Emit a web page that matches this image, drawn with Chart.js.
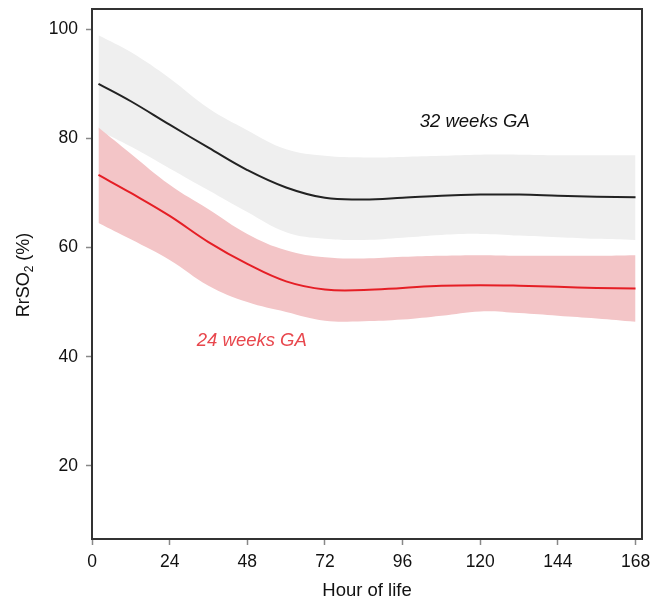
<!DOCTYPE html>
<html>
<head>
<meta charset="utf-8">
<script src="https://cdn.jsdelivr.net/npm/chart.js@4/dist/chart.umd.min.js"></script>
<style>
  html, body { margin: 0; padding: 0; background: #fff; }
  #wrap { width: 664px; height: 602px; }
</style>
</head>
<body>
<div id="wrap"><canvas id="rsoChart"></canvas></div>
<script>
// hours of life
var hours = [2, 12, 24, 36, 48, 60, 72, 84, 96, 108, 120, 132, 144, 156, 168];

// 32 weeks GA
var ga32Mean  = [90, 86.8, 82.5, 78.3, 74.2, 71, 69.1, 68.8, 69.1, 69.5, 69.7, 69.7, 69.5, 69.3, 69.2];
var ga32Upper = [98.9, 95.8, 91, 85.5, 81.5, 78, 76.8, 76.5, 76.6, 76.8, 77, 77, 76.9, 76.9, 76.9];
var ga32Lower = [81.5, 78.5, 74.5, 70.5, 66.5, 62.8, 61.6, 61.4, 61.8, 62.3, 62.5, 62.2, 61.9, 61.6, 61.4];

// 24 weeks GA
var ga24Mean  = [73.3, 70, 65.8, 61, 57, 53.8, 52.3, 52.2, 52.6, 53, 53.1, 53, 52.8, 52.6, 52.5];
var ga24Upper = [82, 77.2, 71.5, 67, 62.5, 59.5, 58.2, 58, 58.3, 58.5, 58.6, 58.5, 58.5, 58.5, 58.6];
var ga24Lower = [64.5, 61.5, 57.7, 53, 50, 48.2, 46.6, 46.5, 46.8, 47.5, 48.3, 48, 47.5, 47, 46.4];

var xTicks = [0, 24, 48, 72, 96, 120, 144, 168];
var yTicks = [20, 40, 60, 80, 100];

// text labels placed in data units (hour, %)
var labels = [
  { text: '32 weeks GA', x: 101.3, y: 83, color: '#111' },
  { text: '24 weeks GA', x: 32.4, y: 42.9, color: '#e8474d' }
];

function pts(ys) {
  return hours.map(function (h, i) { return { x: h, y: ys[i] }; });
}

var FONT = "'Liberation Sans', Arial, Helvetica, sans-serif";

var band = { borderWidth: 0, pointRadius: 0, tension: 0.4 };
function ds(extra) { return Object.assign({}, band, extra); }

var boxPlugin = {
  id: 'box',
  afterDraw: function (chart) {
    var c = chart.ctx, a = chart.chartArea;
    var xs = chart.scales.x, ys = chart.scales.y;
    c.save();
    // top and right border
    c.strokeStyle = '#333';
    c.lineWidth = 2;
    c.beginPath();
    c.moveTo(a.left, a.top);
    c.lineTo(a.right, a.top);
    c.lineTo(a.right, a.bottom);
    c.stroke();

    // annotation labels
    c.font = 'italic 18.5px ' + FONT;
    c.textBaseline = 'middle';
    c.textAlign = 'left';
    labels.forEach(function (l) {
      c.fillStyle = l.color;
      c.fillText(l.text, xs.getPixelForValue(l.x), ys.getPixelForValue(l.y));
    });

    // y title with subscript
    c.translate(24, (a.top + a.bottom) / 2 + 1);
    c.rotate(-Math.PI / 2);
    c.fillStyle = '#111';
    c.textBaseline = 'middle';
    var p1 = 'RrSO', sub = '2', p2 = ' (%)';
    c.font = '18px ' + FONT;
    var w1 = c.measureText(p1).width, w3 = c.measureText(p2).width;
    c.font = '12px ' + FONT;
    var w2 = c.measureText(sub).width;
    var x0 = -(w1 + w2 + w3) / 2;
    c.font = '18px ' + FONT;
    c.textAlign = 'left';
    c.fillText(p1, x0, 0);
    c.font = '12px ' + FONT;
    c.fillText(sub, x0 + w1, 6);
    c.font = '18px ' + FONT;
    c.fillText(p2, x0 + w1 + w2, 0);
    c.restore();
  }
};

var ctx = document.getElementById('rsoChart').getContext('2d');
var chart = new Chart(ctx, {
  type: 'line',
  data: {
    datasets: [
      { data: pts(ga24Mean), borderColor: '#e51e25', borderWidth: 2, pointRadius: 0, fill: false, tension: 0.4 },
      { data: pts(ga32Mean), borderColor: '#222', borderWidth: 2, pointRadius: 0, fill: false, tension: 0.4 },
      ds({ data: pts(ga24Upper), fill: '+1', backgroundColor: '#f3c5c7' }),
      ds({ data: pts(ga24Lower), fill: false }),
      ds({ data: pts(ga32Upper), fill: '+1', backgroundColor: '#efefef' }),
      ds({ data: pts(ga32Lower), fill: false })
    ]
  },
  options: {
    responsive: true,
    maintainAspectRatio: false,
    animation: false,
    layout: { padding: { top: 9, right: 22, left: 0, bottom: 0 } },
    plugins: {
      legend: { display: false },
      tooltip: { enabled: false }
    },
    scales: {
      x: {
        type: 'linear',
        min: 0,
        max: 170,
        afterBuildTicks: function (s) { s.ticks = xTicks.map(function (v) { return { value: v }; }); },
        afterFit: function (s) { s.height = 63; s.paddingLeft = 0; s.paddingRight = 0; },
        grid: { drawOnChartArea: false, tickLength: 6, color: '#888', tickWidth: 1.5 },
        border: { color: '#333', width: 2 },
        ticks: { color: '#111', font: { size: 17.5, family: FONT }, padding: 7, maxRotation: 0 },
        title: { display: true, text: 'Hour of life', color: '#111', font: { size: 18.5, family: FONT }, padding: { top: 0, bottom: 0 } }
      },
      y: {
        min: 6.6,
        max: 103.7,
        afterBuildTicks: function (s) { s.ticks = yTicks.map(function (v) { return { value: v }; }); },
        afterFit: function (s) { s.width = 92; s.paddingTop = 0; s.paddingBottom = 0; },
        grid: { drawOnChartArea: false, tickLength: 6, color: '#888', tickWidth: 1.5 },
        border: { color: '#333', width: 2 },
        ticks: { color: '#111', font: { size: 17.5, family: FONT }, padding: 8 }
      }
    }
  },
  plugins: [boxPlugin]
});
</script>
</body>
</html>
